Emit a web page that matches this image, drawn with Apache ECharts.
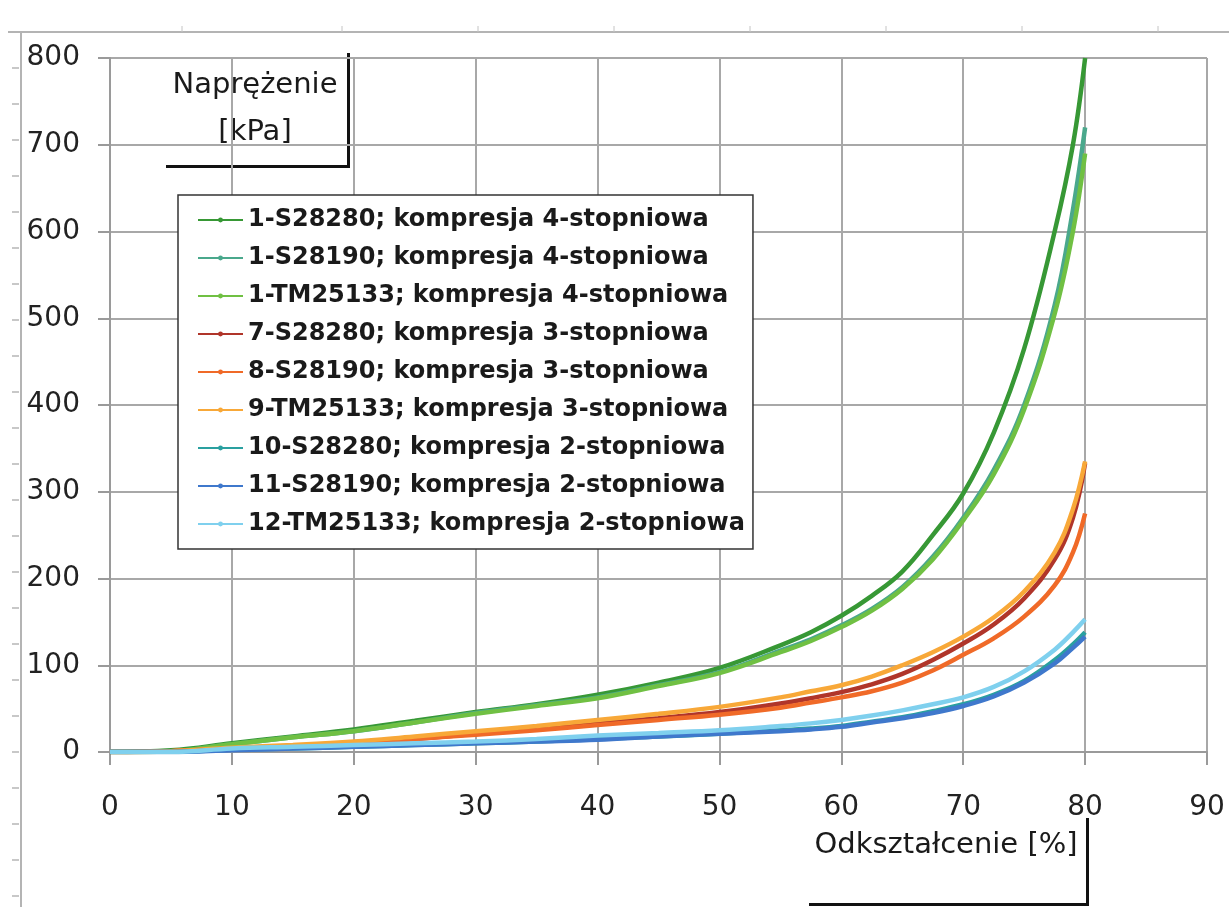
<!DOCTYPE html>
<html>
<head>
<meta charset="utf-8">
<script src="https://cdn.jsdelivr.net/npm/echarts@6/dist/echarts.min.js"></script>
<style>
  html, body { margin: 0; padding: 0; background: #fff; }
  #chart { width: 1229px; height: 907px; }
</style>
</head>
<body>
<div id="chart"></div>
<script>
// odkształcenie [%]
var strain = [0, 5, 10, 15, 20, 25, 30, 35, 40, 45, 50, 55, 57.5, 60, 62.5, 65, 67.5, 70, 72.5, 75, 77.5, 79, 80];

// naprężenie [kPa]
var s1_S28280 = [0, 2, 10, 18, 26, 36, 46, 55, 66, 80, 97, 123, 138, 157, 180, 208, 250, 298, 368, 465, 600, 700, 800];
var s1_S28190 = [0, 1, 9, 17, 24, 34, 45, 54, 63, 77, 92, 117, 130, 146, 165, 190, 225, 270, 325, 400, 515, 625, 720];
var s1_TM25133 = [0, 1, 9, 17, 24, 34, 44, 53, 62, 76, 91, 115, 128, 144, 163, 188, 222, 267, 320, 395, 505, 600, 690];
var s7_S28280 = [0, 1, 4, 7, 10, 15, 21, 27, 33, 39, 46, 56, 62, 69, 78, 90, 106, 125, 147, 177, 222, 270, 333];
var s8_S28190 = [0, 1, 4, 7, 10, 15, 20, 25, 31, 37, 43, 51, 57, 63, 70, 80, 94, 112, 131, 156, 192, 230, 275];
var s9_TM25133 = [0, 1, 5, 8, 12, 18, 24, 30, 37, 44, 52, 63, 70, 77, 87, 100, 115, 133, 155, 185, 230, 280, 335];
var s10_S28280 = [0, 0, 3, 4, 6, 8, 10, 12, 15, 18, 21, 25, 27, 30, 35, 40, 47, 55, 66, 82, 106, 124, 138];
var s11_S28190 = [0, 0, 2, 4, 6, 8, 10, 12, 14, 18, 21, 24, 26, 29, 34, 39, 45, 53, 64, 80, 102, 120, 133];
var s12_TM25133 = [0, 0, 4, 6, 8, 10, 12, 15, 19, 22, 25, 30, 33, 37, 42, 48, 55, 63, 75, 93, 118, 138, 153];

var seriesNames = [
  '1-S28280; kompresja 4-stopniowa',
  '1-S28190; kompresja 4-stopniowa',
  '1-TM25133; kompresja 4-stopniowa',
  '7-S28280; kompresja 3-stopniowa',
  '8-S28190; kompresja 3-stopniowa',
  '9-TM25133; kompresja 3-stopniowa',
  '10-S28280; kompresja 2-stopniowa',
  '11-S28190; kompresja 2-stopniowa',
  '12-TM25133; kompresja 2-stopniowa'
];
var seriesValues = [s1_S28280, s1_S28190, s1_TM25133, s7_S28280, s8_S28190, s9_TM25133, s10_S28280, s11_S28190, s12_TM25133];
var seriesColors = ['#379835', '#4aa88c', '#70c043', '#b0352a', '#f06a28', '#f8a838', '#2aa0a0', '#3f78cc', '#7fd0ee'];

var xTicks = [0, 10, 20, 30, 40, 50, 60, 70, 80, 90];
var yTicks = [0, 100, 200, 300, 400, 500, 600, 700, 800];

var chart = echarts.init(document.getElementById('chart'));

var series = seriesNames.map(function (name, i) {
  return {
    name: name,
    type: 'line',
    data: strain.map(function (x, j) { return [x, seriesValues[i][j]]; }),
    smooth: 0.4,
    symbol: 'circle',
    symbolSize: 4,
    showSymbol: false,
    color: seriesColors[i],
    lineStyle: { width: 4.5, color: seriesColors[i] },
    z: 3
  };
});

// page ruler left over around the chart (decoration only)
var ruler = [
  { type: 'line', shape: { x1: 8, y1: 32, x2: 1229, y2: 32 }, style: { stroke: '#b4b4b4', lineWidth: 2 } },
  { type: 'line', shape: { x1: 21, y1: 32, x2: 21, y2: 907 }, style: { stroke: '#b4b4b4', lineWidth: 2 } }
];
[182, 342, 478, 614, 750, 886, 1022, 1158].forEach(function (x) {
  ruler.push({ type: 'line', shape: { x1: x, y1: 26, x2: x, y2: 32 }, style: { stroke: '#c4c4c4', lineWidth: 1 } });
});
for (var ty = 68; ty < 907; ty += 36) {
  ruler.push({ type: 'line', shape: { x1: 12, y1: ty, x2: 19, y2: ty }, style: { stroke: '#c8c8c8', lineWidth: 2 } });
}

var option = {
  backgroundColor: '#fff',
  animation: false,
  textStyle: { fontFamily: 'DejaVu Sans' },
  grid: { left: 110, right: 22, top: 58, bottom: 155 },
  legend: {
    orient: 'vertical',
    left: 178,
    top: 195,
    padding: [13, 8, 13, 19],
    backgroundColor: '#fff',
    borderColor: '#333',
    borderWidth: 1.5,
    itemWidth: 45,
    itemHeight: 6,
    itemGap: 14,
    data: seriesNames,
    textStyle: {
      fontFamily: 'DejaVu Sans',
      fontWeight: 'bold',
      fontSize: 24,
      lineHeight: 24,
      color: '#1a1a1a'
    }
  },
  xAxis: {
    type: 'value',
    min: 0,
    max: 90,
    interval: 10,
    axisLine: { show: true, onZero: false, lineStyle: { color: '#9a9a9a', width: 2 } },
    axisTick: { show: true, length: 13, lineStyle: { color: '#9a9a9a', width: 2 } },
    splitLine: { show: true, lineStyle: { color: '#a8a8a8', width: 2 } },
    axisLabel: {
      margin: 42,
      fontSize: 28,
      color: '#222',
      formatter: function (v) { return xTicks.indexOf(v) >= 0 ? String(v) : ''; }
    }
  },
  yAxis: {
    type: 'value',
    min: 0,
    max: 800,
    interval: 100,
    axisLine: { show: true, lineStyle: { color: '#9a9a9a', width: 2 } },
    axisTick: { show: true, length: 12, lineStyle: { color: '#9a9a9a', width: 2 } },
    splitLine: { show: true, lineStyle: { color: '#a8a8a8', width: 2 } },
    axisLabel: {
      margin: 30,
      fontSize: 28,
      color: '#222',
      padding: [6, 0, 0, 0],
      formatter: function (v) { return yTicks.indexOf(v) >= 0 ? String(v) : ''; }
    }
  },
  graphic: ruler.concat([
    {
      type: 'group',
      z: 100,
      children: [
        { type: 'rect', shape: { x: 163, y: 50, width: 184, height: 115 },
          style: { fill: '#fff', shadowColor: '#111', shadowOffsetX: 3, shadowOffsetY: 3, shadowBlur: 0 } },
        { type: 'text', x: 255, y: 109,
          style: { text: 'Naprężenie\n[kPa]', font: '29px "DejaVu Sans"', fill: '#1a1a1a',
                   align: 'center', verticalAlign: 'middle', lineHeight: 47 } }
      ]
    },
    {
      type: 'group',
      z: 100,
      children: [
        { type: 'rect', shape: { x: 806, y: 815, width: 280, height: 88 },
          style: { fill: '#fff', shadowColor: '#111', shadowOffsetX: 3, shadowOffsetY: 3, shadowBlur: 0 } },
        { type: 'text', x: 946, y: 845,
          style: { text: 'Odkształcenie [%]', font: '29px "DejaVu Sans"', fill: '#1a1a1a',
                   align: 'center', verticalAlign: 'middle' } }
      ]
    }
  ]),
  series: series
};

chart.setOption(option);
</script>
</body>
</html>
